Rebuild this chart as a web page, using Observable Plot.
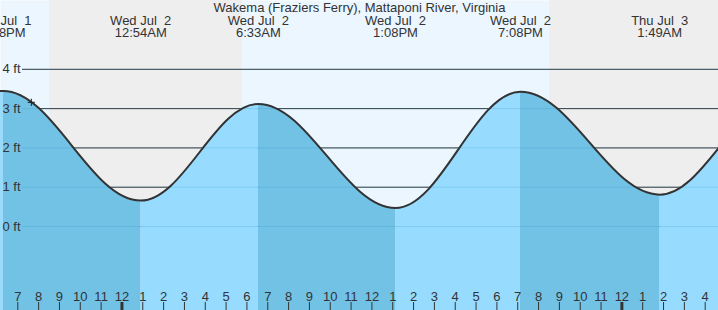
<!DOCTYPE html>
<html><head><meta charset="utf-8">
<script src="https://cdn.jsdelivr.net/npm/d3@7"></script>
<script src="https://cdn.jsdelivr.net/npm/@observablehq/plot@0.6"></script>
<style>
html,body{margin:0;padding:0;overflow:hidden;background:#fff;}
#chart svg{display:block;}
#chart svg text{white-space:pre;}
</style></head><body><div id="chart"></div>
<script>
// ---- data ----
const title = "Wakema (Fraziers Ferry), Mattaponi River, Virginia";
// tide extremes (first and last are just off the visible window)
const extremeTimes = ["2025-07-01T11:55Z","2025-07-01T18:18Z","2025-07-02T00:54Z","2025-07-02T06:33Z","2025-07-02T13:08Z","2025-07-02T19:08Z","2025-07-03T01:49Z","2025-07-03T07:30Z"];
const extremeHeights = [0.5, 3.45, 0.66, 3.12, 0.47, 3.43, 0.81, 3.2];
// labelled extremes
const labelTimes = ["2025-07-01T18:18Z","2025-07-02T00:54Z","2025-07-02T06:33Z","2025-07-02T13:08Z","2025-07-02T19:08Z","2025-07-03T01:49Z"];
const labelDays = ["Tue Jul  1","Wed Jul  2","Wed Jul  2","Wed Jul  2","Wed Jul  2","Thu Jul  3"];
const labelClock = ["6:18PM","12:54AM","6:33AM","1:08PM","7:08PM","1:49AM"];
// night periods
const nightStarts = ["2025-07-01T20:32Z","2025-07-02T20:32Z"];
const nightEnds = ["2025-07-02T05:47Z","2025-07-03T05:48Z"];
// y ticks
const yTicks = [0, 1, 2, 3, 4];
const yTickLabels = ["0 ft","1 ft","2 ft","3 ft","4 ft"];
// hour ticks
const hourTickLabels = ["7","8","9","10","11","12","1","2","3","4","5","6","7","8","9","10","11","12","1","2","3","4","5","6","7","8","9","10","11","12","1","2","3","4"];
const firstHour = "2025-07-01T19:00Z";
// current time marker
const nowTime = "2025-07-01T19:39Z";
const nowHeight = 3.16;

// ---- view window ----
const xStart = new Date("2025-07-01T18:10:10Z");
const xEnd = new Date("2025-07-03T04:38:20Z");

// ---- build tables ----
const extremes = extremeTimes.map((t, i) => ({t: new Date(t), h: extremeHeights[i]}));
const segments = [];
for (let i = 0; i < extremes.length - 1; i++) {
  const kind = extremes[i + 1].h < extremes[i].h ? "ebb" : "flood";
  segments.push({seg: i, kind, t: extremes[i].t, h: extremes[i].h});
  segments.push({seg: i, kind, t: extremes[i + 1].t, h: extremes[i + 1].h});
}
const labels = labelTimes.map((t, i) => ({t: new Date(t), day: labelDays[i], clock: labelClock[i]}));
const nights = nightStarts.map((s, i) => ({start: new Date(s), end: new Date(nightEnds[i])}));
const yTickRows = yTicks.map((v, i) => ({v, label: yTickLabels[i]}));
const h0 = new Date(firstHour);
const hours = hourTickLabels.map((label, i) => {
  const t = new Date(+h0 + i * 3600e3);
  return {t, label, midnight: t.getUTCHours() === 0};
});

// tide-shaped curve between successive extremes (zero slope at each extreme)
class TideCurve {
  constructor(ctx) { this._context = ctx; }
  areaStart() { this._line = 0; }
  areaEnd() { this._line = NaN; }
  lineStart() { this._point = 0; }
  lineEnd() {
    if (this._line || (this._line !== 0 && this._point === 1)) this._context.closePath();
    this._line = 1 - this._line;
  }
  point(x, y) {
    x = +x; y = +y;
    if (this._point === 0) {
      this._point = 1;
      if (this._line) this._context.lineTo(x, y); else this._context.moveTo(x, y);
    } else {
      this._point = 2;
      const k = 0.3634 * (x - this._x0);
      this._context.bezierCurveTo(this._x0 + k, this._y0, x - k, y, x, y);
    }
    this._x0 = x; this._y0 = y;
  }
}
const tideCurve = (ctx) => new TideCurve(ctx);

const yMin = -2.137, yMax = 5.751;
const font = "'Liberation Sans', Arial, Helvetica, sans-serif";
const fs = 13;
const textColor = "#333333";

const chart = Plot.plot({
  width: 718, height: 310,
  marginTop: 0, marginRight: 0, marginBottom: 0, marginLeft: 0,
  x: {type: "utc", domain: [xStart, xEnd], axis: null},
  y: {domain: [yMin, yMax], axis: null},
  style: {fontFamily: font, background: "#ffffff"},
  marks: [
    Plot.frame({fill: "#ebf6ff", stroke: "none"}),
    Plot.rect(nights, {x1: "start", x2: "end", fill: "#eeeeee", clip: true}),
    Plot.ruleY(yTickRows, {y: "v", insetLeft: 22, stroke: "#333333", strokeWidth: 1}),
    Plot.area(segments.filter(d => d.kind === "flood"), {x1: "t", y1: yMin, y2: "h", z: "seg", fill: "#97dcff", curve: tideCurve, clip: true}),
    Plot.area(segments.filter(d => d.kind === "ebb"), {x1: "t", y1: yMin, y2: "h", z: "seg", fill: "#72c2e6", curve: tideCurve, clip: true}),
    Plot.ruleY(yTickRows, {y: "v", insetLeft: 22, stroke: "#2c8cc0", strokeOpacity: 0.22, strokeWidth: 1}),
    Plot.line(extremes, {x: "t", y: "h", stroke: "#333333", strokeWidth: 2, curve: tideCurve, clip: true}),
    Plot.dot([{t: new Date(nowTime), h: nowHeight}], {
      x: "t", y: "h", r: 3.6, stroke: "#222222", strokeWidth: 1, fill: "none",
      symbol: {draw(ctx, size) { const r = Math.sqrt(size / Math.PI); ctx.moveTo(-r, 0); ctx.lineTo(r, 0); ctx.moveTo(0, -r); ctx.lineTo(0, r); }}
    }),
    // y labels
    Plot.text(yTickRows, {y: "v", text: "label", frameAnchor: "left", dx: 20, textAnchor: "end", lineAnchor: "middle", fill: textColor, fontSize: fs, fontFamily: font}),
    // title and extreme labels
    Plot.text([title], {text: d => d, frameAnchor: "top", dy: 11, lineAnchor: "bottom", fill: textColor, fontSize: fs, fontFamily: font}),
    Plot.text(labels, {x: "t", text: "day", frameAnchor: "top", dy: 24, lineAnchor: "bottom", fill: textColor, fontSize: fs, fontFamily: font}),
    Plot.text(labels, {x: "t", text: "clock", frameAnchor: "top", dy: 36, lineAnchor: "bottom", fill: textColor, fontSize: fs, fontFamily: font}),
    // hour ticks
    Plot.ruleX(hours.filter(d => !d.midnight), {x: "t", insetTop: 302, stroke: "#333333", strokeWidth: 1}),
    Plot.ruleX(hours.filter(d => d.midnight), {x: "t", insetTop: 302, stroke: "#333333", strokeWidth: 3}),
    Plot.text(hours, {x: "t", text: "label", frameAnchor: "bottom", dy: -10, lineAnchor: "bottom", fill: textColor, fontSize: fs, fontFamily: font})
  ]
});
document.getElementById("chart").appendChild(chart);
</script>
</body></html>
